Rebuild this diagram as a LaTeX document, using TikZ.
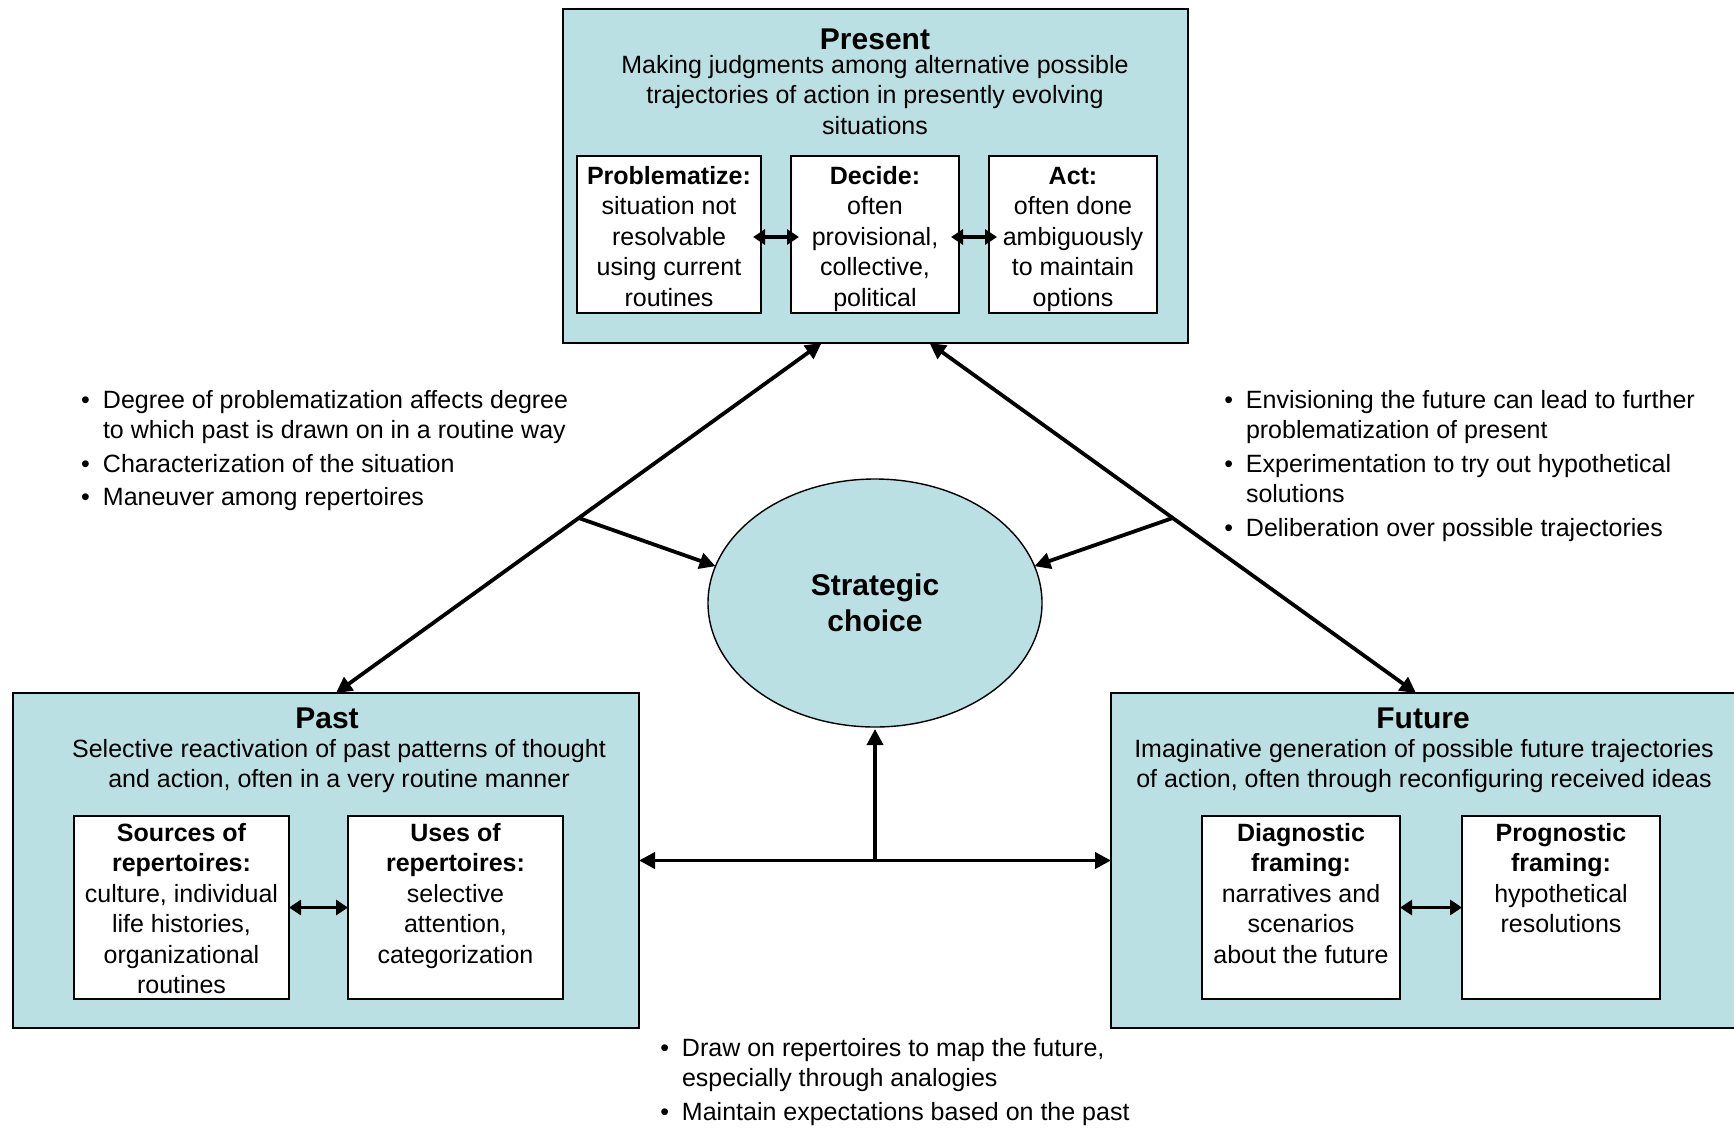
\documentclass[tikz,border=0pt]{standalone}
\usepackage{fontspec}
\setmainfont{Liberation Sans}
\usetikzlibrary{arrows.meta,calc,shapes.geometric}
\definecolor{paleteal}{HTML}{BBE0E3}
\newcommand\bul{\llap{•\hspace{13pt}}}
\begin{document}
% multi-line text nodes are placed by the baseline of their last line
\begin{tikzpicture}[x=1pt,y=-1pt,
  every node/.style={font=\fontsize{25}{30.5}\selectfont, inner sep=0pt, outer sep=0pt},
  panel/.style={draw=black, line width=1.6pt, fill=paleteal, rectangle},
  card/.style={draw=black, line width=1.2pt, fill=white, rectangle},
  head/.style={font=\fontsize{30}{36}\selectfont\bfseries, anchor=base},
  txt/.style={align=center, anchor=base},
  notes/.style={align=left, anchor=base west},
  link/.style={line width=3.8pt, -{Triangle[length=16pt,width=16pt]}},
  twoway/.style={line width=3.8pt, {Triangle[length=16pt,width=16pt]}-{Triangle[length=16pt,width=16pt]}},
  swap/.style={line width=3.8pt, {Triangle[length=12pt,width=15pt]}-{Triangle[length=12pt,width=15pt]}},
]
\useasboundingbox (0,0) rectangle (1734,1128);
\clip (0,0) rectangle (1734,1128);

% ---------- Present ----------
\node[panel, minimum width=625, minimum height=334] (present) at (875.5,176) {};
\node[head] (presentT) at (875,49) {Present};
\node[txt] (presentD) at (875,134) {Making judgments among alternative possible\\trajectories of action in presently evolving\\situations};
\node[card, minimum width=184, minimum height=157] (prob) at (669,234.5) {};
\node[card, minimum width=168, minimum height=157] (dec) at (875,234.5) {};
\node[card, minimum width=168, minimum height=157] (act) at (1073,234.5) {};
\node[txt] (probT) at (669,306) {\textbf{Problematize:}\\situation not\\resolvable\\using current\\routines};
\node[txt] (decT) at (875,306) {\textbf{Decide:}\\often\\provisional,\\collective,\\political};
\node[txt] (actT) at (1073,306) {\textbf{Act:}\\often done\\ambiguously\\to maintain\\options};
\draw[swap] ($(prob.east |- 0,237)+(-8,0)$) -- ($(dec.west |- 0,237)+(8,0)$);
\draw[swap] ($(dec.east |- 0,237)+(-8,0)$) -- ($(act.west |- 0,237)+(8,0)$);

% ---------- Past ----------
\node[panel, minimum width=626, minimum height=335] (past) at (326,860.5) {};
\node[head] (pastT) at (327,728) {Past};
\node[txt] (pastD) at (339,787.5) {Selective reactivation of past patterns of thought\\and action, often in a very routine manner};
\node[card, minimum width=215, minimum height=183] (src) at (181.5,907.5) {};
\node[card, minimum width=215, minimum height=183] (use) at (455.5,907.5) {};
\node[txt] (srcT) at (181.5,993.5) {\textbf{Sources of}\\\textbf{repertoires:}\\culture, individual\\life histories,\\organizational\\routines};
\node[txt] (useT) at (455.5,963) {\textbf{Uses of}\\\textbf{repertoires:}\\selective\\attention,\\categorization};
\draw[swap] (src.east) -- (use.west);

% ---------- Future ----------
\node[panel, minimum width=629, minimum height=335] (future) at (1425.5,860.5) {};
\node[head] (futureT) at (1423,728) {Future};
\node[txt] (futureD) at (1424,787.5) {Imaginative generation of possible future trajectories\\of action, often through reconfiguring received ideas};
\node[card, minimum width=198, minimum height=183] (diag) at (1301,907.5) {};
\node[card, minimum width=198, minimum height=183] (prog) at (1561,907.5) {};
\node[txt] (diagT) at (1301,963) {\textbf{Diagnostic}\\\textbf{framing:}\\narratives and\\scenarios\\about the future};
\node[txt] (progT) at (1561,932.5) {\textbf{Prognostic}\\\textbf{framing:}\\hypothetical\\resolutions};
\draw[swap] (diag.east) -- (prog.west);

% ---------- Strategic choice ----------
\node[ellipse, draw=black, line width=1.4pt, fill=paleteal, minimum width=334, minimum height=248,
      align=center, font=\fontsize{30}{36.5}\selectfont\bfseries] (sc) at (875,603) {Strategic\\choice};

% ---------- connectors ----------
\coordinate (pastTop) at ($(past.north)+(10,0)$);
\coordinate (presL) at ($(present.south)+(-54,0)$);
\coordinate (presR) at ($(present.south)+(54,0)$);
\coordinate (futTop) at ($(future.north)+(-9.5,0)$);
\draw[twoway] (pastTop) -- (presL);
\draw[twoway] (presR) -- (futTop);
\draw[link] ($(pastTop)!0.5!(presL)$) -- (sc.167);
\draw[link] ($(futTop)!0.5!(presR)$) -- (sc.13);
\draw[twoway] (past.east) -- (future.west);
\draw[link] (past.east -| sc.south) -- ($(sc.south)+(0,2)$);

% ---------- notes ----------
\node[notes] (noteL) at (103,505.5) {\bul Degree of problematization affects degree\\to which past is drawn on in a routine way\\[3pt]\bul Characterization of the situation\\[3pt]\bul Maneuver among repertoires};
\node[notes] (noteR) at (1246,536) {\bul Envisioning the future can lead to further\\problematization of present\\[3pt]\bul Experimentation to try out hypothetical\\solutions\\[3pt]\bul Deliberation over possible trajectories};
\node[notes] (noteB) at (682,1120) {\bul Draw on repertoires to map the future,\\especially through analogies\\[3pt]\bul Maintain expectations based on the past};
\end{tikzpicture}
\end{document}
